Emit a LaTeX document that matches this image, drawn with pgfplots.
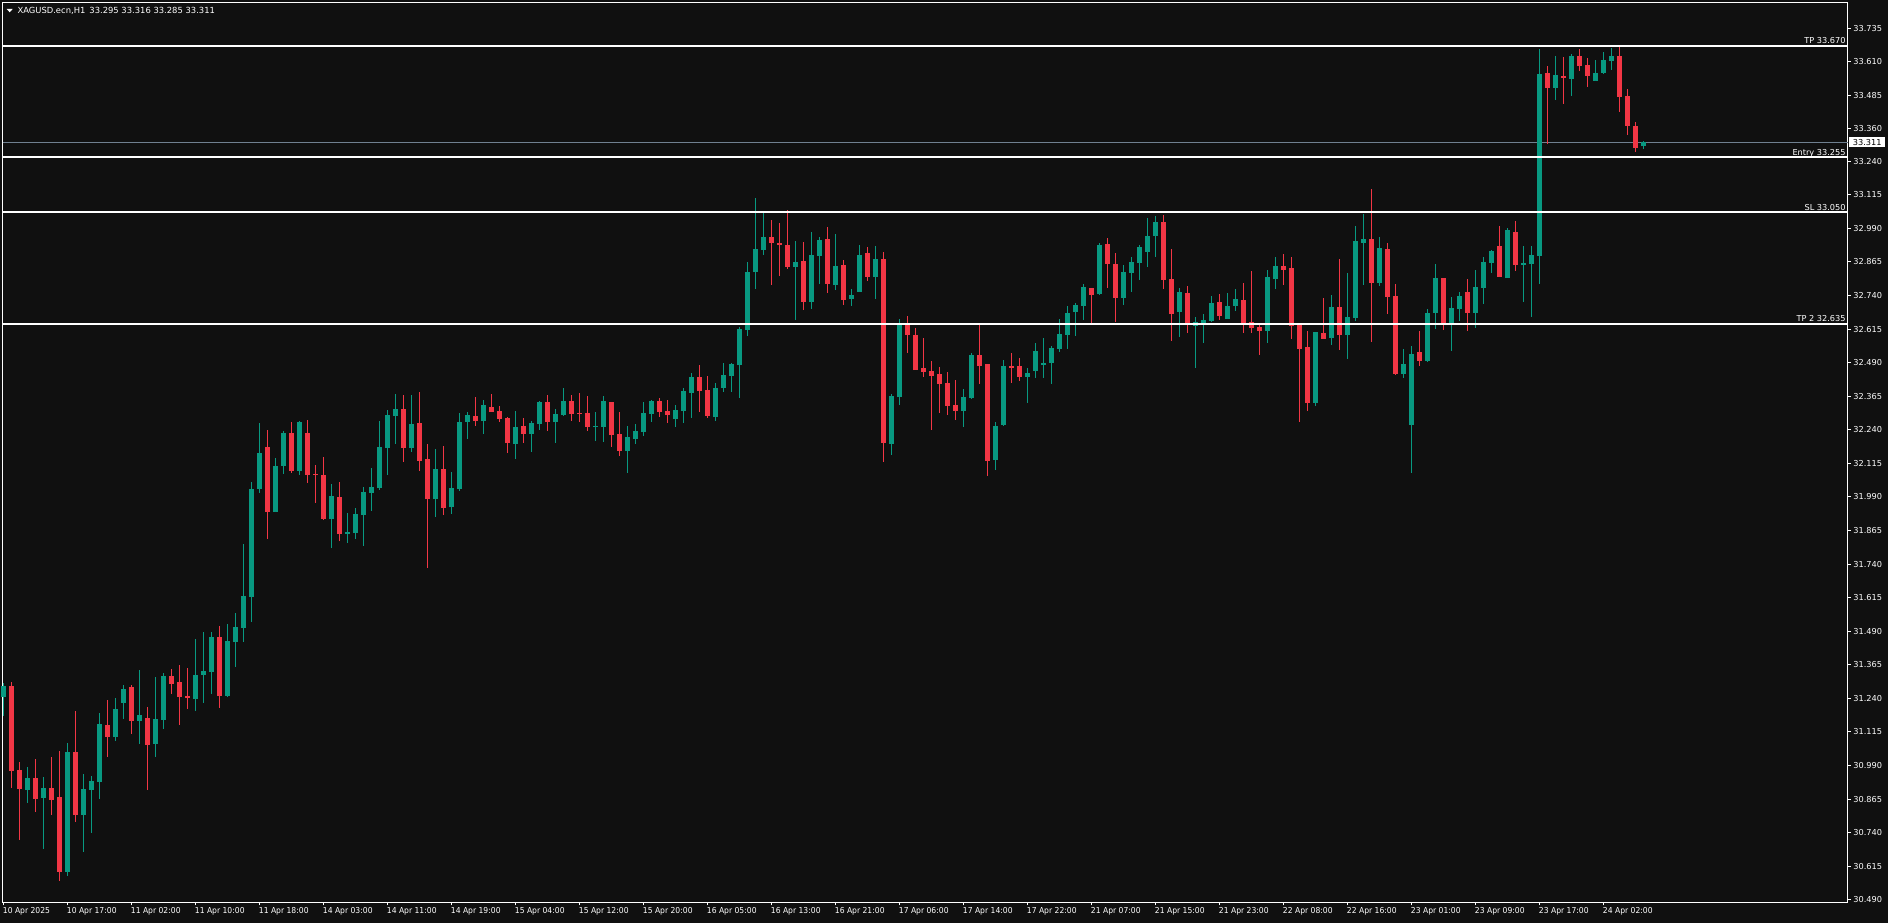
\documentclass[border=0pt]{standalone}
\usepackage{pgfplots}
\pgfplotsset{compat=1.18}
\usepackage{pgfplotstable}
\usepackage{fontspec}
\setmainfont{DejaVu Sans}
\newfontfamily\narrowfont{DejaVu Sans}[FakeStretch=0.93]
\definecolor{bgc}{RGB}{16,16,16}
\definecolor{bullc}{RGB}{8,153,129}
\definecolor{bearc}{RGB}{242,54,69}
\definecolor{pricec}{RGB}{112,128,144}
\newcommand\lblfont{\fontsize{8.2}{9.8}\selectfont}

% rising candles (close >= open)
\pgfplotstableread{
i O H L C
0 31.246 31.298 31.175 31.285
3 30.899 30.984 30.851 30.943
5 30.869 30.946 30.681 30.905
8 30.594 31.073 30.579 31.040
10 30.806 30.958 30.668 30.902
11 30.899 30.950 30.739 30.932
12 30.929 31.185 30.866 31.144
14 31.097 31.241 31.082 31.200
15 31.223 31.289 31.164 31.274
17 31.156 31.345 31.071 31.177
19 31.071 31.319 31.022 31.162
20 31.160 31.334 31.126 31.323
24 31.238 31.460 31.194 31.326
25 31.328 31.486 31.223 31.341
26 31.339 31.486 31.257 31.468
28 31.249 31.516 31.246 31.453
29 31.450 31.557 31.357 31.505
30 31.503 31.814 31.450 31.621
31 31.618 32.045 31.525 32.019
32 32.020 32.265 32.005 32.153
34 31.935 32.134 31.935 32.105
35 32.106 32.235 32.076 32.228
37 32.087 32.272 32.072 32.269
41 31.907 32.038 31.799 31.993
43 31.852 31.930 31.818 31.859
44 31.855 31.948 31.833 31.926
45 31.922 32.027 31.807 32.008
46 32.004 32.097 31.937 32.027
47 32.023 32.272 32.015 32.176
48 32.172 32.313 32.071 32.295
49 32.291 32.373 32.187 32.317
51 32.172 32.369 32.157 32.261
54 31.982 32.168 31.915 32.094
56 31.952 32.082 31.926 32.023
57 32.019 32.302 32.012 32.269
58 32.269 32.306 32.205 32.295
60 32.272 32.351 32.224 32.332
64 32.187 32.310 32.131 32.250
66 32.224 32.272 32.157 32.265
67 32.261 32.347 32.239 32.343
69 32.269 32.317 32.190 32.298
70 32.295 32.395 32.291 32.347
74 32.250 32.306 32.198 32.254
75 32.250 32.365 32.194 32.347
78 32.161 32.254 32.079 32.213
79 32.205 32.261 32.187 32.235
80 32.231 32.343 32.217 32.302
81 32.299 32.351 32.269 32.347
84 32.280 32.332 32.250 32.313
85 32.310 32.395 32.265 32.384
86 32.377 32.451 32.284 32.436
89 32.287 32.414 32.272 32.395
90 32.395 32.488 32.380 32.444
91 32.440 32.488 32.380 32.485
92 32.481 32.623 32.358 32.615
93 32.611 32.865 32.589 32.827
94 32.827 33.103 32.764 32.913
95 32.909 33.047 32.891 32.958
99 32.846 32.943 32.649 32.865
101 32.716 32.976 32.690 32.891
102 32.887 32.958 32.783 32.947
104 32.779 32.969 32.760 32.850
106 32.727 32.764 32.701 32.742
107 32.753 32.928 32.753 32.891
109 32.809 32.924 32.727 32.876
111 32.187 32.373 32.146 32.366
112 32.362 32.652 32.332 32.630
120 32.310 32.392 32.250 32.362
121 32.358 32.526 32.355 32.519
124 32.127 32.269 32.090 32.254
125 32.258 32.500 32.254 32.478
128 32.437 32.470 32.340 32.451
129 32.459 32.563 32.433 32.533
130 32.481 32.582 32.433 32.489
131 32.489 32.552 32.411 32.545
132 32.541 32.653 32.530 32.597
133 32.593 32.701 32.541 32.675
134 32.679 32.712 32.589 32.705
135 32.701 32.783 32.649 32.772
137 32.746 32.936 32.742 32.928
140 32.731 32.854 32.705 32.828
141 32.824 32.884 32.753 32.865
142 32.861 32.928 32.798 32.921
143 32.902 33.029 32.846 32.962
144 32.962 33.036 32.884 33.014
147 32.679 32.768 32.586 32.753
149 32.627 32.660 32.470 32.641
150 32.634 32.671 32.563 32.649
151 32.645 32.738 32.641 32.712
153 32.653 32.749 32.653 32.701
154 32.701 32.764 32.682 32.727
158 32.608 32.835 32.563 32.809
159 32.802 32.884 32.764 32.850
164 32.340 32.604 32.329 32.604
166 32.582 32.742 32.556 32.697
168 32.593 32.824 32.504 32.660
169 32.656 32.999 32.645 32.943
170 32.936 33.044 32.779 32.951
172 32.787 32.958 32.776 32.917
175 32.448 32.541 32.433 32.485
176 32.258 32.552 32.079 32.522
178 32.496 32.690 32.492 32.675
179 32.675 32.858 32.615 32.805
181 32.638 32.735 32.534 32.694
182 32.690 32.753 32.645 32.738
184 32.675 32.835 32.619 32.772
185 32.768 32.884 32.709 32.865
186 32.861 32.910 32.824 32.906
188 32.805 32.992 32.805 32.984
190 32.854 32.925 32.716 32.861
191 32.858 32.925 32.660 32.891
192 32.887 33.658 32.783 33.565
194 33.513 33.632 33.468 33.561
196 33.547 33.640 33.483 33.632
199 33.539 33.617 33.539 33.569
200 33.569 33.647 33.565 33.617
201 33.614 33.662 33.580 33.632
205 33.295 33.316 33.285 33.311
}\bulltable

% falling candles (close < open)
\pgfplotstableread{
i O H L C
1 31.285 31.300 30.908 30.970
2 30.973 31.002 30.714 30.903
4 30.943 31.014 30.817 30.866
6 30.905 31.021 30.806 30.862
7 30.872 31.043 30.560 30.594
9 31.040 31.192 30.780 30.806
13 31.140 31.233 31.022 31.097
16 31.282 31.289 31.108 31.156
18 31.166 31.207 30.899 31.067
21 31.323 31.349 31.257 31.294
22 31.300 31.364 31.141 31.246
23 31.248 31.352 31.201 31.242
27 31.468 31.509 31.205 31.249
33 32.175 32.239 31.834 31.935
36 32.228 32.269 32.080 32.087
38 32.228 32.276 32.043 32.072
39 32.075 32.108 31.968 32.071
40 32.071 32.138 31.905 31.909
42 31.989 32.045 31.825 31.852
50 32.317 32.369 32.120 32.172
52 32.265 32.380 32.086 32.123
53 32.131 32.187 31.725 31.982
55 32.094 32.179 31.922 31.948
59 32.291 32.362 32.254 32.272
61 32.325 32.373 32.306 32.306
62 32.310 32.328 32.269 32.280
63 32.284 32.287 32.153 32.190
65 32.254 32.284 32.190 32.224
68 32.343 32.369 32.235 32.269
71 32.347 32.369 32.272 32.298
72 32.302 32.377 32.269 32.298
73 32.302 32.365 32.235 32.250
76 32.343 32.343 32.176 32.220
77 32.224 32.306 32.142 32.161
82 32.347 32.358 32.287 32.306
83 32.310 32.351 32.265 32.295
87 32.436 32.481 32.306 32.384
88 32.388 32.440 32.284 32.291
96 32.958 33.021 32.779 32.935
97 32.935 33.010 32.812 32.928
98 32.928 33.058 32.839 32.846
100 32.868 32.939 32.686 32.716
103 32.950 32.995 32.749 32.783
105 32.853 32.872 32.705 32.723
108 32.898 32.921 32.794 32.809
110 32.876 32.902 32.120 32.191
113 32.630 32.664 32.526 32.593
114 32.593 32.619 32.462 32.462
115 32.470 32.582 32.436 32.455
116 32.459 32.496 32.239 32.440
117 32.448 32.474 32.302 32.410
118 32.414 32.455 32.295 32.328
119 32.332 32.425 32.276 32.310
122 32.519 32.630 32.411 32.478
123 32.485 32.485 32.068 32.124
126 32.478 32.526 32.414 32.470
127 32.478 32.507 32.422 32.437
136 32.768 32.768 32.634 32.742
138 32.932 32.954 32.768 32.857
139 32.857 32.898 32.641 32.731
145 33.014 33.040 32.764 32.798
146 32.802 32.913 32.571 32.671
148 32.749 32.776 32.600 32.634
152 32.716 32.746 32.649 32.664
155 32.723 32.787 32.600 32.634
156 32.641 32.831 32.600 32.619
157 32.623 32.630 32.519 32.608
160 32.850 32.895 32.779 32.835
161 32.843 32.884 32.578 32.627
162 32.630 32.630 32.269 32.541
163 32.548 32.608 32.310 32.340
165 32.601 32.731 32.578 32.578
167 32.697 32.876 32.537 32.593
171 32.951 33.137 32.567 32.787
173 32.913 32.936 32.671 32.735
174 32.738 32.783 32.444 32.448
177 32.530 32.608 32.478 32.496
180 32.805 32.805 32.612 32.638
183 32.753 32.802 32.608 32.675
187 32.925 32.999 32.809 32.809
189 32.977 33.018 32.831 32.854
193 33.569 33.595 33.304 33.513
195 33.558 33.628 33.453 33.550
197 33.632 33.658 33.576 33.595
198 33.599 33.625 33.517 33.558
202 33.632 33.669 33.424 33.480
203 33.483 33.509 33.338 33.372
204 33.372 33.386 33.275 33.290
}\beartable

\begin{document}
\begin{tikzpicture}
\useasboundingbox (0,0) rectangle (1888pt,923pt);
\fill[bgc] (0,0) rectangle (1888pt,923pt);
\begin{axis}[
  at={(2.5pt,20.7pt)}, anchor=south west,
  scale only axis, width=1845pt, height=899.6pt,
  xmin=-0.1, xmax=230.525, ymin=30.481, ymax=33.830,
  clip=false,
  axis line style={white, line width=1pt},
  tick align=outside, major tick length=3pt,
  tick style={white, line width=1pt},
  xtick pos=left, ytick pos=right, yticklabel pos=right,
  xtick={0,8,...,200},
  xticklabels={10 Apr 2025, 10 Apr 17:00, 11 Apr 02:00, 11 Apr 10:00, 11 Apr 18:00, 14 Apr 03:00, 14 Apr 11:00, 14 Apr 19:00, 15 Apr 04:00, 15 Apr 12:00, 15 Apr 20:00, 16 Apr 05:00, 16 Apr 13:00, 16 Apr 21:00, 17 Apr 06:00, 17 Apr 14:00, 17 Apr 22:00, 21 Apr 07:00, 21 Apr 15:00, 21 Apr 23:00, 22 Apr 08:00, 22 Apr 16:00, 23 Apr 01:00, 23 Apr 09:00, 23 Apr 17:00, 24 Apr 02:00},
  ytick={30.490,30.615,30.740,30.865,30.990,31.115,31.240,31.365,31.490,31.615,31.740,31.865,31.990,32.115,32.240,32.365,32.490,32.615,32.740,32.865,32.990,33.115,33.240,33.360,33.485,33.610,33.735},
  yticklabels={30.490,30.615,30.740,30.865,30.990,31.115,31.240,31.365,31.490,31.615,31.740,31.865,31.990,32.115,32.240,32.365,32.490,32.615,32.740,32.865,32.990,33.115,33.240,33.360,33.485,33.610,33.735},
  xticklabel style={font=\narrowfont\lblfont, text=white, anchor=north west, inner sep=0pt, xshift=-0.6pt, yshift=-2.4pt},
  yticklabel style={font=\lblfont, text=white, anchor=west, inner sep=0pt, xshift=2.6pt},
  candle/.style={only marks, mark=*, mark size=0pt, mark options={draw=none, fill=none}, forget plot},
]
% current price line (behind candles)
\addplot[pricec, line width=1pt, forget plot] coordinates {(-0.1,33.311) (230.525,33.311)};
% wicks
\addplot[candle,
  error bars/.cd, y dir=plus, y explicit, error mark=none,
  error bar style={draw=bullc, line width=1pt}]
  table[x=i, y=L, y error expr=\thisrow{H}-\thisrow{L}]{\bulltable};
\addplot[candle,
  error bars/.cd, y dir=plus, y explicit, error mark=none,
  error bar style={draw=bearc, line width=1pt}]
  table[x=i, y=L, y error expr=\thisrow{H}-\thisrow{L}]{\beartable};
% bodies
\addplot[candle,
  error bars/.cd, y dir=plus, y explicit, error mark=none,
  error bar style={draw=bullc, line width=5pt}]
  table[x=i, y=O, y error expr=\thisrow{C}-\thisrow{O}]{\bulltable};
\addplot[candle,
  error bars/.cd, y dir=plus, y explicit, error mark=none,
  error bar style={draw=bearc, line width=5pt}]
  table[x=i, y=C, y error expr=\thisrow{O}-\thisrow{C}]{\beartable};
% trade levels
\addplot[white, line width=2pt, forget plot] coordinates {(-0.1,33.670) (230.525,33.670)};
\addplot[white, line width=2pt, forget plot] coordinates {(-0.1,33.255) (230.525,33.255)};
\addplot[white, line width=2pt, forget plot] coordinates {(-0.1,33.050) (230.525,33.050)};
\addplot[white, line width=2pt, forget plot] coordinates {(-0.1,32.635) (230.525,32.635)};
\node[anchor=base east, inner sep=0pt, text=white, font=\lblfont, xshift=-1.7pt, yshift=2pt] at (axis cs:230.525,33.670) {TP 33.670};
\node[anchor=base east, inner sep=0pt, text=white, font=\lblfont, xshift=-1.7pt, yshift=2pt] at (axis cs:230.525,33.255) {Entry 33.255};
\node[anchor=base east, inner sep=0pt, text=white, font=\lblfont, xshift=-1.7pt, yshift=2pt] at (axis cs:230.525,33.050) {SL 33.050};
\node[anchor=base east, inner sep=0pt, text=white, font=\lblfont, xshift=-1.7pt, yshift=2pt] at (axis cs:230.525,32.635) {TP 2 32.635};
\node[anchor=west, fill=white, text=black, font=\lblfont, inner sep=0pt, minimum width=35.7pt, minimum height=10.4pt, xshift=1.6pt] at (axis cs:230.525,33.311) {33.311};
\end{axis}
\fill[white] (6.7pt,914pt) -- (12.7pt,914pt) -- (9.7pt,910.7pt) -- cycle;
\node[anchor=base west, inner sep=0pt, text=white, font=\fontsize{8.4}{10}\selectfont] at (17.3pt,909pt) {XAGUSD.ecn,H1\hspace{4pt}33.295 33.316 33.285 33.311};
\end{tikzpicture}
\end{document}
